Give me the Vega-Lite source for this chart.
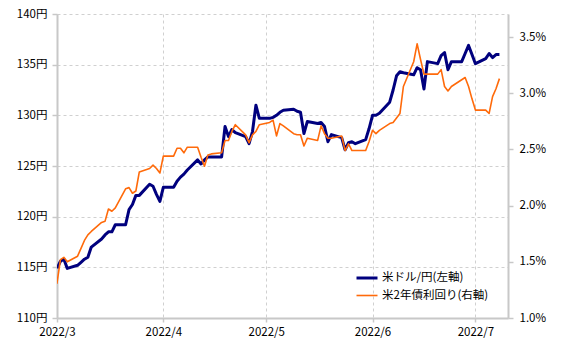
{
  "$schema": "https://vega.github.io/schema/vega-lite/v6.json",
  "width": 451,
  "height": 304,
  "autosize": {"type": "none"},
  "padding": {"left": 57, "top": 14, "right": 60, "bottom": 38},
  "background": "white",
  "config": {
    "view": {"stroke": null},
    "font": "Noto Sans CJK JP",
    "axis": {
      "labelFont": "Noto Sans CJK JP",
      "labelFontSize": 11.5,
      "labelColor": "#000000",
      "domainColor": "#c8c8c8",
      "domainWidth": 2,
      "tickColor": "#c8c8c8",
      "tickWidth": 1.5,
      "gridColor": "#d0d0d0",
      "gridDash": [3, 3],
      "gridWidth": 1,
      "title": null
    },
    "legend": {
      "labelFont": "Noto Sans CJK JP",
      "labelFontSize": 11.5,
      "labelColor": "#000000"
    }
  },
  "datasets": {
    "usd": [
      {"d": "2022-03-01", "v": 114.9}, {"d": "2022-03-02", "v": 115.6}, {"d": "2022-03-03", "v": 115.8}, {"d": "2022-03-04", "v": 114.9},
      {"d": "2022-03-07", "v": 115.2}, {"d": "2022-03-08", "v": 115.5}, {"d": "2022-03-09", "v": 115.8}, {"d": "2022-03-10", "v": 116.0}, {"d": "2022-03-11", "v": 117.0},
      {"d": "2022-03-14", "v": 117.8}, {"d": "2022-03-15", "v": 118.2}, {"d": "2022-03-16", "v": 118.5}, {"d": "2022-03-17", "v": 118.5}, {"d": "2022-03-18", "v": 119.2},
      {"d": "2022-03-21", "v": 119.2}, {"d": "2022-03-22", "v": 120.7}, {"d": "2022-03-23", "v": 121.2}, {"d": "2022-03-24", "v": 122.1}, {"d": "2022-03-25", "v": 122.1},
      {"d": "2022-03-28", "v": 123.2}, {"d": "2022-03-29", "v": 123.0}, {"d": "2022-03-30", "v": 122.2}, {"d": "2022-03-31", "v": 121.5}, {"d": "2022-04-01", "v": 122.9},
      {"d": "2022-04-04", "v": 122.9}, {"d": "2022-04-05", "v": 123.5}, {"d": "2022-04-06", "v": 123.9}, {"d": "2022-04-07", "v": 124.2}, {"d": "2022-04-08", "v": 124.6},
      {"d": "2022-04-11", "v": 125.6}, {"d": "2022-04-12", "v": 125.2}, {"d": "2022-04-13", "v": 125.6}, {"d": "2022-04-14", "v": 125.9}, {"d": "2022-04-15", "v": 125.9},
      {"d": "2022-04-18", "v": 125.9}, {"d": "2022-04-19", "v": 128.9}, {"d": "2022-04-20", "v": 127.9}, {"d": "2022-04-21", "v": 128.6}, {"d": "2022-04-22", "v": 128.3},
      {"d": "2022-04-25", "v": 127.9}, {"d": "2022-04-26", "v": 127.2}, {"d": "2022-04-27", "v": 128.4}, {"d": "2022-04-28", "v": 131.0}, {"d": "2022-04-29", "v": 129.7},
      {"d": "2022-05-02", "v": 129.7}, {"d": "2022-05-03", "v": 129.8}, {"d": "2022-05-04", "v": 130.0}, {"d": "2022-05-05", "v": 130.3}, {"d": "2022-05-06", "v": 130.5},
      {"d": "2022-05-09", "v": 130.6}, {"d": "2022-05-10", "v": 130.4}, {"d": "2022-05-11", "v": 130.3}, {"d": "2022-05-12", "v": 128.2}, {"d": "2022-05-13", "v": 129.4},
      {"d": "2022-05-16", "v": 129.2}, {"d": "2022-05-17", "v": 129.3}, {"d": "2022-05-18", "v": 128.9}, {"d": "2022-05-19", "v": 127.4}, {"d": "2022-05-20", "v": 128.1},
      {"d": "2022-05-23", "v": 127.8}, {"d": "2022-05-24", "v": 126.6}, {"d": "2022-05-25", "v": 127.3}, {"d": "2022-05-26", "v": 127.4}, {"d": "2022-05-27", "v": 127.2},
      {"d": "2022-05-30", "v": 127.6}, {"d": "2022-05-31", "v": 128.7}, {"d": "2022-06-01", "v": 130.0}, {"d": "2022-06-02", "v": 130.0}, {"d": "2022-06-03", "v": 130.2},
      {"d": "2022-06-06", "v": 131.3}, {"d": "2022-06-07", "v": 132.5}, {"d": "2022-06-08", "v": 133.9}, {"d": "2022-06-09", "v": 134.3}, {"d": "2022-06-10", "v": 134.2},
      {"d": "2022-06-13", "v": 134.0}, {"d": "2022-06-14", "v": 134.7}, {"d": "2022-06-15", "v": 134.5}, {"d": "2022-06-16", "v": 132.6}, {"d": "2022-06-17", "v": 135.3},
      {"d": "2022-06-20", "v": 135.1}, {"d": "2022-06-21", "v": 135.9}, {"d": "2022-06-22", "v": 136.2}, {"d": "2022-06-23", "v": 134.5}, {"d": "2022-06-24", "v": 135.3},
      {"d": "2022-06-27", "v": 135.3}, {"d": "2022-06-28", "v": 136.1}, {"d": "2022-06-29", "v": 136.9}, {"d": "2022-06-30", "v": 136.0}, {"d": "2022-07-01", "v": 135.1},
      {"d": "2022-07-04", "v": 135.6}, {"d": "2022-07-05", "v": 136.1}, {"d": "2022-07-06", "v": 135.7}, {"d": "2022-07-07", "v": 136.0}, {"d": "2022-07-08", "v": 136.0}
    ],
    "yld": [
      {"d": "2022-02-28", "v": 1.44}, {"d": "2022-03-01", "v": 1.31}, {"d": "2022-03-02", "v": 1.52}, {"d": "2022-03-03", "v": 1.54}, {"d": "2022-03-04", "v": 1.50},
      {"d": "2022-03-07", "v": 1.55}, {"d": "2022-03-08", "v": 1.62}, {"d": "2022-03-09", "v": 1.69}, {"d": "2022-03-10", "v": 1.74}, {"d": "2022-03-11", "v": 1.77},
      {"d": "2022-03-14", "v": 1.85}, {"d": "2022-03-15", "v": 1.86}, {"d": "2022-03-16", "v": 1.97}, {"d": "2022-03-17", "v": 1.95}, {"d": "2022-03-18", "v": 1.98},
      {"d": "2022-03-21", "v": 2.15}, {"d": "2022-03-22", "v": 2.16}, {"d": "2022-03-23", "v": 2.11}, {"d": "2022-03-24", "v": 2.13}, {"d": "2022-03-25", "v": 2.30},
      {"d": "2022-03-28", "v": 2.33}, {"d": "2022-03-29", "v": 2.36}, {"d": "2022-03-30", "v": 2.33}, {"d": "2022-03-31", "v": 2.29}, {"d": "2022-04-01", "v": 2.44},
      {"d": "2022-04-04", "v": 2.44}, {"d": "2022-04-05", "v": 2.51}, {"d": "2022-04-06", "v": 2.51}, {"d": "2022-04-07", "v": 2.47}, {"d": "2022-04-08", "v": 2.52},
      {"d": "2022-04-11", "v": 2.52}, {"d": "2022-04-12", "v": 2.43}, {"d": "2022-04-13", "v": 2.35}, {"d": "2022-04-14", "v": 2.45}, {"d": "2022-04-15", "v": 2.46},
      {"d": "2022-04-18", "v": 2.47}, {"d": "2022-04-19", "v": 2.58}, {"d": "2022-04-20", "v": 2.58}, {"d": "2022-04-21", "v": 2.66}, {"d": "2022-04-22", "v": 2.72},
      {"d": "2022-04-25", "v": 2.63}, {"d": "2022-04-26", "v": 2.56}, {"d": "2022-04-27", "v": 2.63}, {"d": "2022-04-28", "v": 2.66}, {"d": "2022-04-29", "v": 2.72},
      {"d": "2022-05-02", "v": 2.74}, {"d": "2022-05-03", "v": 2.76}, {"d": "2022-05-04", "v": 2.62}, {"d": "2022-05-05", "v": 2.73}, {"d": "2022-05-06", "v": 2.71},
      {"d": "2022-05-09", "v": 2.64}, {"d": "2022-05-10", "v": 2.63}, {"d": "2022-05-11", "v": 2.63}, {"d": "2022-05-12", "v": 2.53}, {"d": "2022-05-13", "v": 2.60},
      {"d": "2022-05-16", "v": 2.58}, {"d": "2022-05-17", "v": 2.71}, {"d": "2022-05-18", "v": 2.64}, {"d": "2022-05-19", "v": 2.60}, {"d": "2022-05-20", "v": 2.60},
      {"d": "2022-05-23", "v": 2.62}, {"d": "2022-05-24", "v": 2.49}, {"d": "2022-05-25", "v": 2.55}, {"d": "2022-05-26", "v": 2.49}, {"d": "2022-05-27", "v": 2.49},
      {"d": "2022-05-30", "v": 2.49}, {"d": "2022-05-31", "v": 2.57}, {"d": "2022-06-01", "v": 2.67}, {"d": "2022-06-02", "v": 2.64}, {"d": "2022-06-03", "v": 2.67},
      {"d": "2022-06-06", "v": 2.73}, {"d": "2022-06-07", "v": 2.74}, {"d": "2022-06-08", "v": 2.78}, {"d": "2022-06-09", "v": 2.82}, {"d": "2022-06-10", "v": 3.06},
      {"d": "2022-06-13", "v": 3.28}, {"d": "2022-06-14", "v": 3.44}, {"d": "2022-06-15", "v": 3.30}, {"d": "2022-06-16", "v": 3.17}, {"d": "2022-06-17", "v": 3.17},
      {"d": "2022-06-20", "v": 3.17}, {"d": "2022-06-21", "v": 3.21}, {"d": "2022-06-22", "v": 3.06}, {"d": "2022-06-23", "v": 3.02}, {"d": "2022-06-24", "v": 3.06},
      {"d": "2022-06-27", "v": 3.12}, {"d": "2022-06-28", "v": 3.14}, {"d": "2022-06-29", "v": 3.06}, {"d": "2022-06-30", "v": 2.95}, {"d": "2022-07-01", "v": 2.85},
      {"d": "2022-07-04", "v": 2.85}, {"d": "2022-07-05", "v": 2.82}, {"d": "2022-07-06", "v": 2.97}, {"d": "2022-07-07", "v": 3.04}, {"d": "2022-07-08", "v": 3.13}
    ]
  },
  "layer": [
    {
      "data": {"name": "usd"},
      "mark": {"type": "line", "clip": true, "strokeJoin": "round"},
      "encoding": {
        "x": {
          "field": "d", "type": "temporal",
          "scale": {"type": "utc", "domain": ["2022-03-01T00:00:00Z", "2022-07-10T12:00:00Z"]},
          "axis": {
            "values": ["2022-03-01T00:00:00Z", "2022-04-01T00:00:00Z", "2022-05-01T00:00:00Z", "2022-06-01T00:00:00Z", "2022-07-01T00:00:00Z"],
            "labelExpr": "utcFormat(datum.value, '%Y/%-m')",
            "grid": true, "tickSize": 4, "labelPadding": 4, "labelFlush": false
          }
        },
        "y": {
          "field": "v", "type": "quantitative",
          "scale": {"domain": [110, 140], "nice": false, "zero": false},
          "axis": {
            "orient": "left",
            "values": [110, 115, 120, 125, 130, 135, 140],
            "labelExpr": "datum.value + '円'",
            "grid": true, "tickSize": 5, "labelPadding": 5
          }
        },
        "color": {
          "datum": "米ドル/円(左軸)",
          "scale": {"domain": ["米ドル/円(左軸)", "米2年債利回り(右軸)"], "range": ["#00007e", "#ff6a0a"]},
          "legend": {
            "orient": "none", "legendX": 298, "legendY": 252, "title": null,
            "symbolType": "stroke", "symbolSize": 441, "labelOffset": 3,
            "rowPadding": -3, "padding": 0
          }
        },
        "strokeWidth": {
          "datum": "米ドル/円(左軸)",
          "scale": {"domain": ["米ドル/円(左軸)", "米2年債利回り(右軸)"], "range": [3, 1.6]},
          "legend": null
        }
      }
    },
    {
      "data": {"name": "yld"},
      "mark": {"type": "line", "clip": true, "strokeJoin": "round"},
      "encoding": {
        "x": {"field": "d", "type": "temporal"},
        "y": {
          "field": "v", "type": "quantitative",
          "scale": {"domain": [1.0, 3.705], "nice": false, "zero": false},
          "axis": {
            "orient": "right",
            "values": [1.0, 1.5, 2.0, 2.5, 3.0, 3.5],
            "labelExpr": "format(datum.value, '.1f') + '%'",
            "grid": false, "tickSize": 5, "labelPadding": 6
          }
        },
        "color": {"datum": "米2年債利回り(右軸)"},
        "strokeWidth": {"datum": "米2年債利回り(右軸)", "legend": null}
      }
    }
  ],
  "resolve": {"scale": {"y": "independent"}}
}
